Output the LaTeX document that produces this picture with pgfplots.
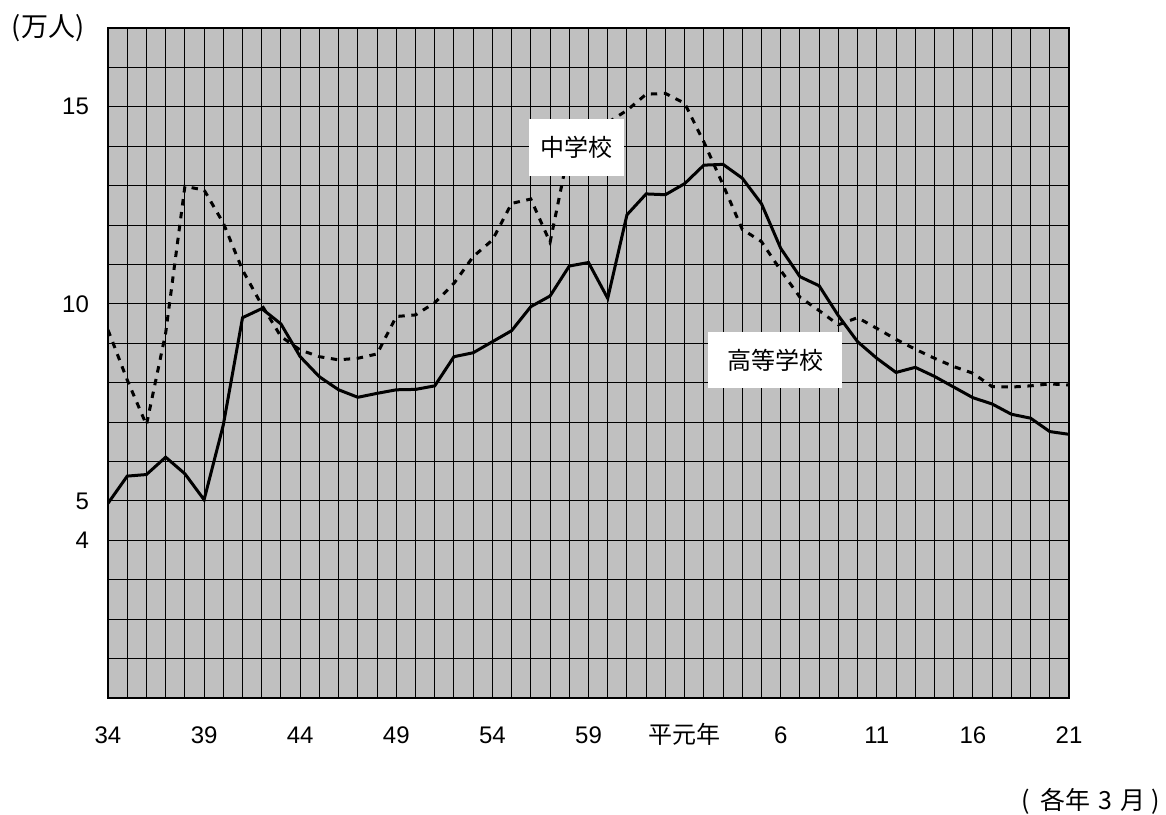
\documentclass[border=0pt]{standalone}
\usepackage{fontspec}
\setmainfont{Liberation Sans}
\newfontfamily\cjk{Noto Sans CJK JP}
\usepackage{pgfplots}
\usepackage{pgfplotstable}
\pgfplotsset{compat=1.18}
\definecolor{plotgray}{HTML}{C0C0C0}

% i = years since Showa 34 (0 = S34, 30 = H1, 50 = H21); values in 10,000 persons
\pgfplotstableread{
i  koko   chu
0  4.94   9.34
1  5.63   8.07
2  5.67   6.93
3  6.11   9.26
4  5.69   12.98
5  5.03   12.89
6  6.93   12.05
7  9.65   10.86
8  9.88   9.97
9  9.49   9.17
10 8.66   8.83
11 8.15   8.66
12 7.82   8.58
13 7.63   8.62
14 7.73   8.73
15 7.82   9.68
16 7.83   9.72
17 7.92   10.03
18 8.66   10.52
19 8.76   11.20
20 9.04   11.62
21 9.32   12.55
22 9.93   12.66
23 10.20  11.56
24 10.96  13.95
25 11.05  14.30
26 10.14  14.60
27 12.26  14.91
28 12.79  15.32
29 12.77  15.34
30 13.05  15.09
31 13.52  14.11
32 13.54  13.02
33 13.19  11.89
34 12.54  11.58
35 11.41  10.85
36 10.69  10.17
37 10.46  9.83
38 9.70   9.47
39 9.04   9.65
40 8.62   9.38
41 8.26   9.10
42 8.39   8.85
43 8.16   8.62
44 7.89   8.41
45 7.62   8.24
46 7.46   7.90
47 7.20   7.89
48 7.10   7.92
49 6.76   7.97
50 6.69   7.94
}\schooldata

\begin{document}
\begin{tikzpicture}
\useasboundingbox (0pt,0pt) rectangle (583pt,407pt);
\begin{axis}[
    at={(54pt,58pt)}, anchor=south west,
    scale only axis,
    width=480.5pt, height=335pt,
    xmin=0, xmax=50,
    ymin=0, ymax=17,
    xtick={0,5,...,50},
    xticklabels={34,39,44,49,54,59,{\cjk 平元年},6,11,16,21},
    minor xtick={0,...,50},
    ytick={4,5,10,15},
    minor ytick={0,...,17},
    grid=both,
    major grid style={black, line width=0.5pt},
    minor grid style={black, line width=0.5pt},
    major tick length=0pt, minor tick length=0pt,
    axis line style={black, line width=0.6pt},
    axis background/.style={fill=plotgray},
    /pgf/number format/assume math mode=true,
    ticklabel style={font=\fontsize{12}{14}\selectfont},
    xticklabel style={anchor=base, yshift=-22.8pt},
    yticklabel style={anchor=east, xshift=-6pt},
  ]
  \addplot[black, line width=1.5pt, dash pattern=on 3.2pt off 3.3pt] table[x=i, y=chu] {\schooldata};
  \addplot[black, line width=1.5pt] table[x=i, y=koko] {\schooldata};
\end{axis}
\node[fill=white, minimum width=47.5pt, minimum height=28.5pt, inner sep=0pt,
      font=\cjk\fontsize{12}{14}\selectfont] at (288.25pt,333.25pt) {中学校};
\node[fill=white, minimum width=67pt, minimum height=28pt, inner sep=0pt,
      font=\cjk\fontsize{12}{14}\selectfont] at (387.5pt,227pt) {高等学校};
\node[font=\cjk\fontsize{13.5}{15}\selectfont, inner sep=0pt] at (24pt,393pt) {(万人)};
\node[font=\cjk\fontsize{12.5}{14}\selectfont, inner sep=0pt, anchor=east] at (580pt,6.5pt)
  {(\hspace{5pt}各年\hspace{4pt}3\hspace{4pt}月\hspace{3pt})};
\end{tikzpicture}
\end{document}
